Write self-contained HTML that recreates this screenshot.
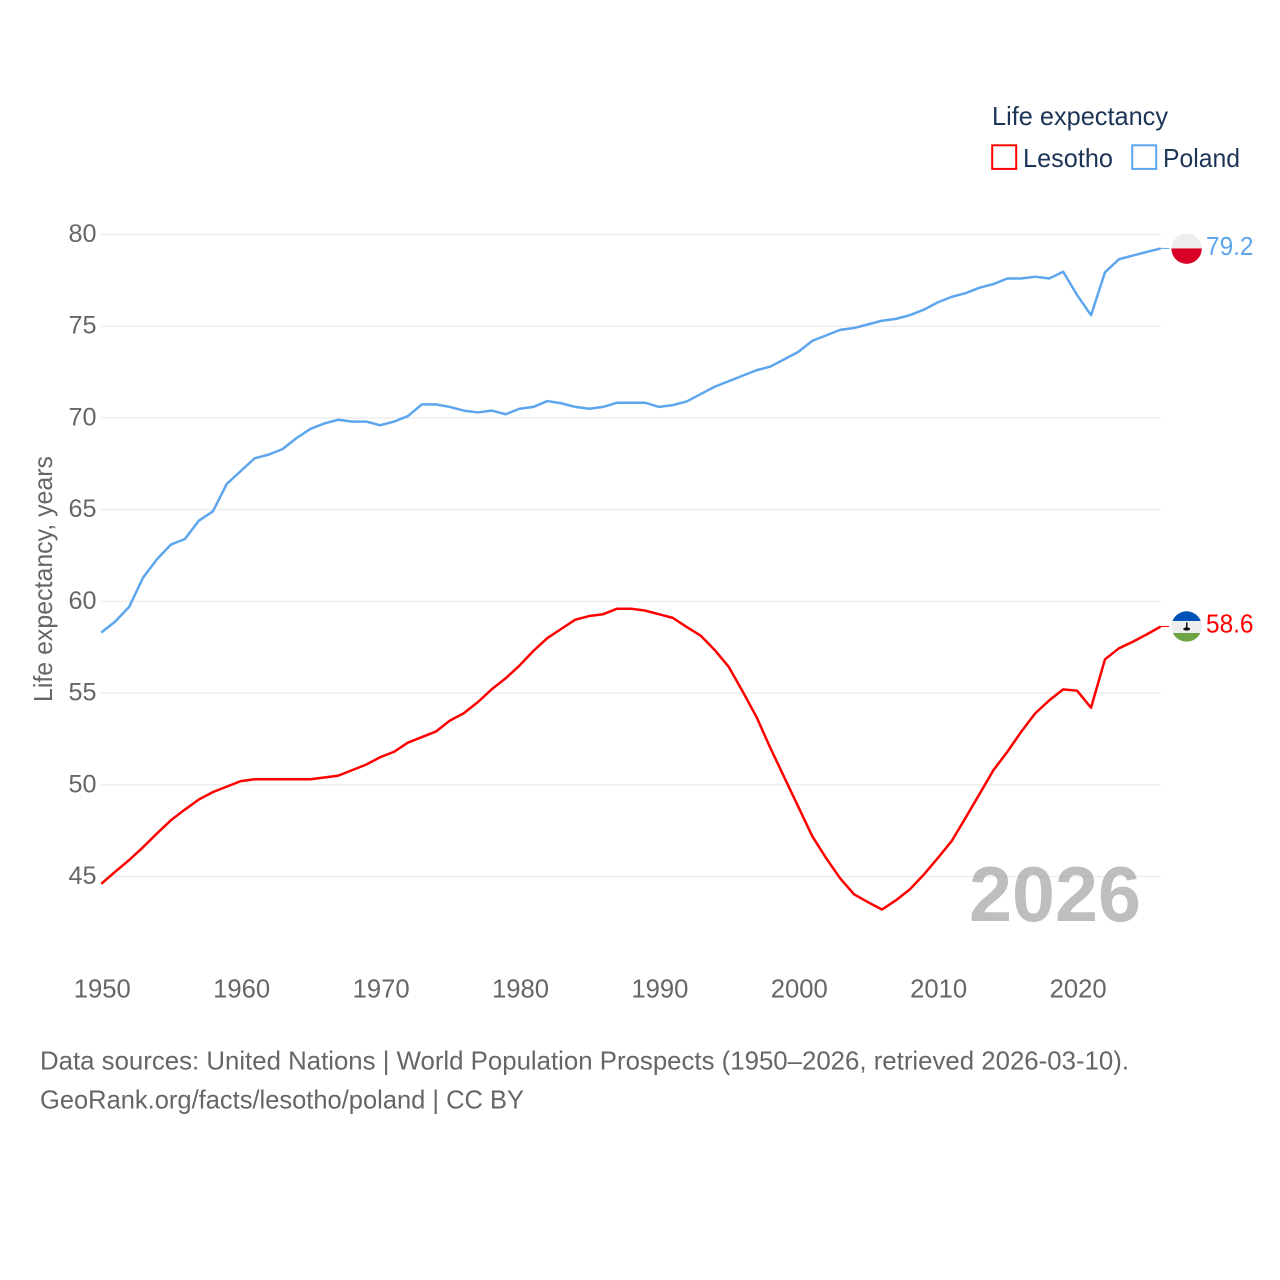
<!DOCTYPE html>
<html lang="en">
<head>
<meta charset="utf-8">
<title>Life expectancy: Lesotho and Poland</title>
<style>
html,body{margin:0;padding:0;background:#fff;width:1280px;height:1280px;overflow:hidden}
svg{display:block}
text{font-family:"Liberation Sans",sans-serif}
</style>
</head>
<body>
<svg id="chart" xmlns="http://www.w3.org/2000/svg" width="1280" height="1280" viewBox="0 0 1280 1280">
  <defs>
    <clipPath id="clip-poland"><circle id="clip-poland-circle" r="15.2" cx="1186.6" cy="248.7"/></clipPath>
    <clipPath id="clip-lesotho"><circle id="clip-lesotho-circle" r="15.2" cx="1186.6" cy="626.5"/></clipPath>
  </defs>
  <rect width="1280" height="1280" fill="#fff"/>
  <g id="grid"></g>
  <g id="yticks"></g>
  <g id="xticks"></g>
  <text transform="translate(52,702) rotate(-90)" font-size="26" fill="#666" textLength="246" lengthAdjust="spacingAndGlyphs">Life expectancy, years</text>
  <text x="969" y="921" font-size="78" font-weight="700" fill="#888" fill-opacity="0.55" textLength="172" lengthAdjust="spacingAndGlyphs">2026</text>
  <g id="series"></g>
  <g id="ends"></g>
  <g>
    <text x="992" y="125" font-size="26" fill="#1d3557" textLength="176" lengthAdjust="spacingAndGlyphs">Life expectancy</text>
    <g>
      <rect x="992.2" y="145.3" width="24" height="23.6" fill="#fff" stroke="#ff0000" stroke-width="2"/>
      <text x="1023" y="167" font-size="26" fill="#1d3557" textLength="90" lengthAdjust="spacingAndGlyphs">Lesotho</text>
    </g>
    <g>
      <rect x="1132.2" y="145.3" width="24" height="23.6" fill="#fff" stroke="#5da5ed" stroke-width="2"/>
      <text x="1163" y="167" font-size="26" fill="#1d3557" textLength="77" lengthAdjust="spacingAndGlyphs">Poland</text>
    </g>
  </g>
  <text x="40" y="1069.5" font-size="26" fill="#666" textLength="1089" lengthAdjust="spacingAndGlyphs">Data sources: United Nations | World Population Prospects (1950–2026, retrieved 2026-03-10).</text>
  <text x="40" y="1108.5" font-size="26" fill="#666" textLength="484" lengthAdjust="spacingAndGlyphs">GeoRank.org/facts/lesotho/poland | CC BY</text>
</svg>
<script>
const firstYear = 1950;
const yTickValues = [45, 50, 55, 60, 65, 70, 75, 80];
const xTickValues = [1950, 1960, 1970, 1980, 1990, 2000, 2010, 2020];
const polandValues = [58.3,58.9,59.7,61.3,62.3,63.1,63.4,64.4,64.9,66.4,
  67.1,67.8,68.0,68.3,68.9,69.4,69.7,69.9,69.8,69.8,
  69.6,69.8,70.1,70.74,70.74,70.6,70.4,70.3,70.4,70.2,
  70.5,70.6,70.92,70.8,70.6,70.5,70.6,70.83,70.83,70.83,
  70.6,70.7,70.9,71.3,71.7,72.0,72.3,72.6,72.8,73.2,
  73.6,74.2,74.5,74.8,74.9,75.1,75.3,75.4,75.6,75.9,
  76.3,76.6,76.8,77.1,77.3,77.6,77.6,77.7,77.6,77.97,
  76.7,75.6,77.94,78.65,78.85,79.05,79.24];
const lesothoValues = [44.6,45.26,45.9,46.6,47.35,48.07,48.65,49.2,49.6,49.9,
  50.2,50.3,50.3,50.3,50.3,50.3,50.4,50.5,50.8,51.1,
  51.5,51.8,52.3,52.6,52.9,53.5,53.9,54.5,55.2,55.8,
  56.5,57.3,58.0,58.5,59.0,59.2,59.3,59.6,59.6,59.5,
  59.3,59.1,58.6,58.13,57.35,56.44,55.1,53.7,52.0,50.4,
  48.8,47.2,46.0,44.9,44.03,43.6,43.2,43.7,44.3,45.1,
  46.0,46.93,48.2,49.5,50.8,51.8,52.9,53.9,54.6,55.2,
  55.13,54.2,56.84,57.44,57.8,58.2,58.63];

const NS = 'http://www.w3.org/2000/svg';
const xAt = function (year) { return 101.3 + (year - firstYear) * 13.94; };
const yAt = function (value) { return 876.5 - (value - 45) * (876.5 - 234.5) / 35; };

function make(tag, attrs, parent, content) {
  const el = document.createElementNS(NS, tag);
  Object.keys(attrs).forEach(function (k) { el.setAttribute(k, attrs[k]); });
  if (content !== undefined) el.textContent = content;
  parent.appendChild(el);
  return el;
}

const grid = document.getElementById('grid');
const yticks = document.getElementById('yticks');
const xticks = document.getElementById('xticks');
const seriesGroup = document.getElementById('series');
const ends = document.getElementById('ends');
const lastYear = firstYear + polandValues.length - 1;

yTickValues.forEach(function (v) {
  const line = make('line', { x1: 101, x2: xAt(lastYear), y1: yAt(v), y2: yAt(v), stroke: '#eeeeee', 'stroke-width': 1.5 }, grid);
  
  
  const label = make('text', { x: 96.5, y: yAt(v) + 7.5, 'text-anchor': 'end', 'font-size': 25, fill: '#666', textLength: 28, lengthAdjust: 'spacingAndGlyphs' }, yticks, String(v));
  
  
});

xTickValues.forEach(function (year) {
  const label = make('text', { x: xAt(year) + 1, y: 997.7, 'text-anchor': 'middle', 'font-size': 25.5, fill: '#666', textLength: 57, lengthAdjust: 'spacingAndGlyphs' }, xticks, String(year));
  
  
});

function pointsFor(values) {
  return values.map(function (v, i) {
    return xAt(firstYear + i).toFixed(2) + ',' + yAt(v).toFixed(2);
  }).join(' ');
}

const lesothoLine = make('polyline', { points: pointsFor(lesothoValues), fill: 'none', stroke: '#ff0000', 'stroke-width': 2.5, 'stroke-linejoin': 'round' }, seriesGroup);


const polandLine = make('polyline', { points: pointsFor(polandValues), fill: 'none', stroke: '#5da5ed', 'stroke-width': 2.5, 'stroke-linejoin': 'round' }, seriesGroup);



const polandLast = polandValues[polandValues.length - 1];
const lesothoLast = lesothoValues[lesothoValues.length - 1];
const polandY = yAt(polandLast);
const lesothoY = yAt(lesothoLast);
const endX = xAt(lastYear);

const polandConnector = make('line', { x1: endX, x2: endX + 8.5, y1: polandY, y2: polandY, stroke: '#5da5ed', 'stroke-width': 1 }, ends);


const lesothoConnector = make('line', { x1: endX, x2: endX + 8.5, y1: lesothoY, y2: lesothoY, stroke: '#ff0000', 'stroke-width': 1 }, ends);



document.getElementById('clip-poland-circle').setAttribute('cy', polandY + 0.2);
document.getElementById('clip-lesotho-circle').setAttribute('cy', lesothoY);

const polandFlag = make('g', { 'clip-path': 'url(#clip-poland)' }, ends);


make('rect', { x: 1170, y: polandY - 17, width: 34, height: 17, fill: '#eeeeee' }, polandFlag);
make('rect', { x: 1170, y: polandY, width: 34, height: 17, fill: '#d80027' }, polandFlag);

const lesothoFlag = make('g', { 'clip-path': 'url(#clip-lesotho)' }, ends);


make('rect', { x: 1170, y: lesothoY - 17, width: 34, height: 11.5, fill: '#0052b4' }, lesothoFlag);
make('rect', { x: 1170, y: lesothoY - 5.5, width: 34, height: 12, fill: '#eeeeee' }, lesothoFlag);
make('rect', { x: 1170, y: lesothoY + 6.5, width: 34, height: 11, fill: '#6da544' }, lesothoFlag);
make('rect', { x: 1186, y: lesothoY - 4, width: 1.5, height: 5, fill: '#111' }, lesothoFlag);
make('ellipse', { cx: 1186.7, cy: lesothoY + 2.5, rx: 3.5, ry: 1.6, fill: '#111' }, lesothoFlag);

const polandLabel = make('text', { x: 1206, y: polandY + 6.5, 'font-size': 26, fill: '#5da5ed', textLength: 47.5, lengthAdjust: 'spacingAndGlyphs' }, ends, polandLast.toFixed(1));


const lesothoLabel = make('text', { x: 1206, y: lesothoY + 6, 'font-size': 26, fill: '#ff0000', textLength: 47.5, lengthAdjust: 'spacingAndGlyphs' }, ends, lesothoLast.toFixed(1));


</script>
</body>
</html>
